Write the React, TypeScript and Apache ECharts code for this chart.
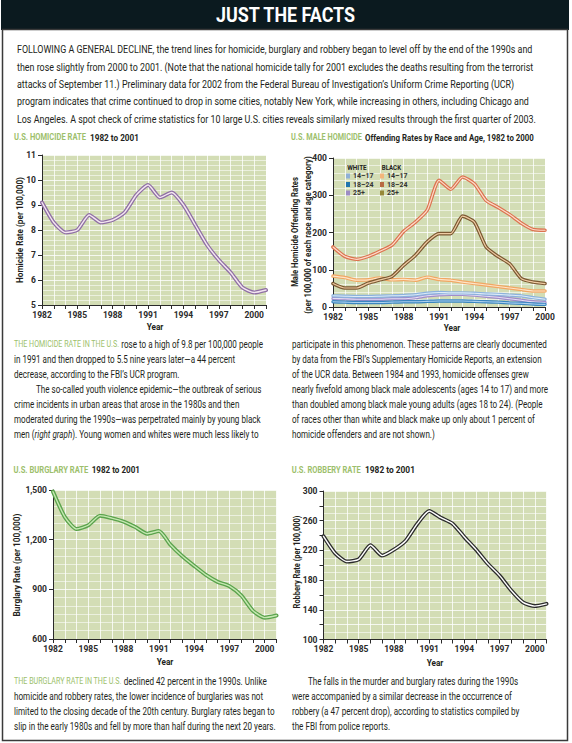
import React, { useEffect, useRef } from 'react';
import * as echarts from 'echarts';

// ---------------- data ----------------
const yearsTo2001 = [1982, 1983, 1984, 1985, 1986, 1987, 1988, 1989, 1990, 1991, 1992, 1993, 1994, 1995, 1996, 1997, 1998, 1999, 2000, 2001];
const yearsTo2000 = [1982, 1983, 1984, 1985, 1986, 1987, 1988, 1989, 1990, 1991, 1992, 1993, 1994, 1995, 1996, 1997, 1998, 1999, 2000];
const xLabelYears = [1982, 1985, 1988, 1991, 1994, 1997, 2000];

const homicideRate = [9.1, 8.3, 7.9, 8.0, 8.6, 8.3, 8.4, 8.7, 9.4, 9.8, 9.3, 9.5, 9.0, 8.2, 7.4, 6.8, 6.3, 5.7, 5.5, 5.6];
const burglaryRate = [1490, 1338, 1264, 1287, 1345, 1330, 1309, 1276, 1236, 1252, 1168, 1100, 1042, 987, 945, 919, 863, 770, 729, 742];
const robberyRate = [239, 216, 205, 208, 227, 213, 221, 233, 256, 273, 264, 256, 238, 221, 202, 186, 166, 150, 145, 148];

const black1824 = [161, 136, 128, 136, 150, 166, 203, 228, 260, 340, 316, 349, 331, 286, 268, 248, 225, 208, 206];
const black25plus = [63, 51, 51, 64, 73, 82, 112, 139, 175, 197, 197, 244, 228, 161, 136, 116, 76, 67, 63];
const black1417 = [83, 79, 72, 73, 78, 73, 74, 72, 80, 74, 72, 67, 63, 59, 55, 51, 47, 43, 43];
const white1417 = [30, 29, 28, 28, 29, 30, 31, 33, 37, 39, 38, 38, 37, 35, 34, 32, 30, 25, 21];
const white25plus = [23, 22, 21, 21, 21, 22, 22, 25, 30, 33, 34, 34, 32, 29, 26, 22, 18, 14, 12];
const white1824 = [14, 13, 12, 12, 12, 13, 14, 14, 15, 16, 16, 16, 15, 14, 13, 11, 10, 8, 7];

const homicideTicks = [5, 11, 1];
const maleTicks = [0, 400, 100];
const burglaryTicks = [600, 1500, 300];
const robberyTicks = [100, 300, 20];

const legendWhite = ['White 14–17', 'White 18–24', 'White 25+'];
const legendBlack = ['Black 14–17', 'Black 18–24', 'Black 25+'];

// ---------------- texts ----------------
const pageTitle = 'JUST THE FACTS';
const introLines = [
  'FOLLOWING A GENERAL DECLINE, the trend lines for homicide, burglary and robbery began to level off by the end of the 1990s and',
  'then rose slightly from 2000 to 2001. (Note that the national homicide tally for 2001 excludes the deaths resulting from the terrorist',
  'attacks of September 11.) Preliminary data for 2002 from the Federal Bureau of Investigation’s Uniform Crime Reporting (UCR)',
  'program indicates that crime continued to drop in some cities, notably New York, while increasing in others, including Chicago and',
  'Los Angeles. A spot check of crime statistics for 10 large U.S. cities reveals similarly mixed results through the first quarter of 2003.',
];
const midLeftLines = [
  '{g|THE HOMICIDE RATE IN THE U.S.} rose to a high of 9.8 per 100,000 people',
  'in 1991 and then dropped to 5.5 nine years later—a 44 percent',
  'decrease, according to the FBI’s UCR program.',
  'The so-called youth violence epidemic—the outbreak of serious',
  'crime incidents in urban areas that arose in the 1980s and then',
  'moderated during the 1990s—was perpetrated mainly by young black',
  'men ({i|right graph}). Young women and whites were much less likely to',
];
const midRightLines = [
  'participate in this phenomenon. These patterns are clearly documented',
  'by data from the FBI’s Supplementary Homicide Reports, an extension',
  'of the UCR data. Between 1984 and 1993, homicide offenses grew',
  'nearly fivefold among black male adolescents (ages 14 to 17) and more',
  'than doubled among black male young adults (ages 18 to 24). (People',
  'of races other than white and black make up only about 1 percent of',
  'homicide offenders and are not shown.)',
];
const bottomLeftLines = [
  '{g|THE BURGLARY RATE IN THE U.S.} declined 42 percent in the 1990s. Unlike',
  'homicide and robbery rates, the lower incidence of burglaries was not',
  'limited to the closing decade of the 20th century. Burglary rates began to',
  'slip in the early 1980s and fell by more than half during the next 20 years.',
];
const bottomRightLines = [
  'The falls in the murder and burglary rates during the 1990s',
  'were accompanied by a similar decrease in the occurrence of',
  'robbery (a 47 percent drop), according to statistics compiled by',
  'the FBI from police reports.',
];

// ---------------- style ----------------
const TEXT = '#231f20';
const GREEN = '#9dbf6c';
const AXIS = '#2a2a2a';
const PLOT_BG = '#d3ddb5';
const GRID_LINE = 'rgba(255,255,255,0.78)';
const GRID_MINOR = 'rgba(255,255,255,0.55)';
const BASE = 'Roboto';
const FONT = 'Roboto, "Noto Sans", sans-serif';

function makeMeasurer() {
  const ctx = document.createElement('canvas').getContext('2d') as CanvasRenderingContext2D;
  const width = (text: string, font: string) => {
    ctx.font = font;
    return ctx.measureText(text).width;
  };
  return { width };
}

function buildOption() {
  const m = makeMeasurer();
  const AXFONT = FONT;
  const axSize = 8.5;

  const fontStr = (size: number, weight: string) => `${weight} ${size}px ${BASE}`;
  const fitScale = (text: string, size: number, weight: string, target: number) => target / m.width(text, fontStr(size, weight));

  const txt = (text: string, x: number, y: number, size: number, o: any = {}) => {
    const weight = o.weight || 'normal';
    const sx = o.width ? fitScale(text, size, weight, o.width) : o.scale ?? 1;
    const align = o.align || 'left';
    return {
      type: 'text',
      x,
      y,
      rotation: o.rotation || 0,
      scaleX: sx,
      scaleY: 1,
      silent: true,
      z: 10,
      style: {
        text,
        fontSize: size,
        fontWeight: weight,
        fontFamily: FONT,
        fill: o.fill || TEXT,
        align,
        textAlign: align,
        verticalAlign: 'middle',
        textVerticalAlign: 'middle',
        rich: o.rich,
      },
    };
  };

  const graphics: any[] = [];
  // header + frame
  graphics.push({ type: 'rect', shape: { x: 1, y: 0, width: 568, height: 30 }, style: { fill: '#0b1a1f' }, silent: true });
  graphics.push({ type: 'rect', shape: { x: 2.5, y: 29.5, width: 565, height: 711 }, style: { fill: 'none', stroke: '#3a3a3a', lineWidth: 1.5 }, silent: true });
  graphics.push(txt(pageTitle, 285.5, 15.5, 21, { weight: 'bold', width: 140, align: 'center', fill: '#ffffff' }));

  // intro
  const introScale = fitScale(introLines[0], 11, 'normal', 516);
  introLines.forEach((l, i) => graphics.push(txt(l, 17, 49.5 + i * 17.3, 11, { scale: introScale })));

  // chart titles
  const titleParts = [
    ['U.S. HOMICIDE RATE', 14, 72, '1982 to 2001', 90, 49, 137.7],
    ['U.S. MALE HOMICIDE', 291, 71, 'Offending Rates by Race and Age, 1982 to 2000', 365, 169, 137.7],
    ['U.S. BURGLARY RATE', 13.5, 75, '1982 to 2001', 91.7, 48.3, 470],
    ['U.S. ROBBERY RATE', 291.7, 69.3, '1982 to 2001', 365, 50, 470],
  ] as any[];
  titleParts.forEach(([g, gx, gw, t, tx, tw, y]) => {
    graphics.push(txt(g, gx, y, 8.5, { weight: 'bold', width: gw, fill: GREEN }));
    graphics.push(txt(t, tx, y, 9.5, { weight: 'bold', width: tw }));
  });

  // axis names
  const yearName = [[155, 327], [452, 328], [165, 661.7], [435, 663.3]];
  yearName.forEach(([x, y]) => graphics.push(txt('Year', x, y, 9, { weight: 'bold', width: 16.7, align: 'center' })));
  const half = Math.PI / 2;
  graphics.push(txt('Homicide Rate (per 100,000)', 20, 230, 9, { weight: 'bold', width: 106, align: 'center', rotation: half }));
  graphics.push(txt('Male Homicide Offending Rates', 295, 232, 9, { weight: 'bold', width: 110, align: 'center', rotation: half }));
  graphics.push(txt('(per 100,000 of each race and age category)', 307.7, 235, 9, { weight: 'bold', width: 158, align: 'center', rotation: half }));
  graphics.push(txt('Burglary Rate (per 100,000)', 17.3, 565, 9, { weight: 'bold', width: 103, align: 'center', rotation: half }));
  graphics.push(txt('Robbery Rate (per 100,000)', 296.7, 562, 9, { weight: 'bold', width: 93, align: 'center', rotation: half }));

  // legend headers
  graphics.push(txt('WHITE', 347.3, 167.5, 7.5, { weight: 'bold', width: 19.4 }));
  graphics.push(txt('BLACK', 381.7, 167.5, 7.5, { weight: 'bold', width: 19.4 }));

  // paragraphs
  const paraScale = fitScale(midLeftLines[5], 10, 'normal', 247);
  const rich = {
    g: { fill: GREEN, fontSize: 8.8, fontFamily: FONT, fontWeight: 'normal' },
    i: { fill: TEXT, fontSize: 10, fontFamily: FONT, fontStyle: 'italic' },
  };
  midLeftLines.forEach((l, i) => graphics.push(txt(l, i === 3 ? 36 : 14, 344.7 + i * 15, 10, { scale: paraScale, rich })));
  midRightLines.forEach((l, i) => graphics.push(txt(l, 292, 344.7 + i * 15, 10, { scale: paraScale })));
  const bottomScale = fitScale(bottomLeftLines[3], 10, 'normal', 262);
  bottomLeftLines.forEach((l, i) => graphics.push(txt(l, 14, 681.5 + i * 15, 10, { scale: bottomScale, rich })));
  bottomRightLines.forEach((l, i) => graphics.push(txt(l, i === 0 ? 308 : 292, 681.5 + i * 15, 10, { scale: bottomScale })));

  // ---------- grids & axes ----------
  const grid = [
    { left: 42, top: 155, width: 224, height: 150 },
    { left: 333, top: 158, width: 212, height: 149 },
    { left: 53, top: 490, width: 223.5, height: 149 },
    { left: 323.5, top: 491, width: 223, height: 148.5 },
  ].map((g) => ({ ...g, show: true, backgroundColor: PLOT_BG, borderWidth: 0 }));

  const axisLabelStyle = { fontSize: axSize, fontWeight: 'bold', fontFamily: AXFONT, color: AXIS };

  const xAxisFor = (gridIndex: number, years: number[]) => ({
    type: 'value',
    gridIndex,
    min: years[0],
    max: years[years.length - 1],
    interval: 1,
    axisLine: { show: true, onZero: false, lineStyle: { color: AXIS, width: 1 } },
    axisTick: { show: true, length: 4, lineStyle: { color: AXIS, width: 1 } },
    axisLabel: {
      ...axisLabelStyle,
      margin: 5,
      showMinLabel: true,
      showMaxLabel: true,
      formatter: (v: number) => (xLabelYears.includes(v) ? String(v) : ''),
    },
    splitLine: { show: true, lineStyle: { color: GRID_LINE, width: 1 } },
  });

  const yAxisFor = (gridIndex: number, ticks: number[], labelStep: number, minor: number, fmt?: (v: number) => string) => ({
    type: 'value',
    gridIndex,
    min: ticks[0],
    max: ticks[1],
    interval: ticks[2],
    axisLine: { show: true, onZero: false, lineStyle: { color: AXIS, width: 1 } },
    axisTick: { show: true, length: 4, lineStyle: { color: AXIS, width: 1 } },
    axisLabel: {
      ...axisLabelStyle,
      margin: 6,
      showMinLabel: true,
      showMaxLabel: true,
      formatter: (v: number) => ((v - ticks[0]) % labelStep === 0 ? (fmt ? fmt(v) : String(v)) : ''),
    },
    splitLine: { show: true, lineStyle: { color: GRID_LINE, width: 1 } },
    minorTick: { show: false, splitNumber: minor },
    minorSplitLine: { show: true, lineStyle: { color: GRID_MINOR, width: 1 } },
  });

  const xAxis = [xAxisFor(0, yearsTo2001), xAxisFor(1, yearsTo2000), xAxisFor(2, yearsTo2001), xAxisFor(3, yearsTo2001)];
  const yAxis = [
    yAxisFor(0, homicideTicks, 1, 5),
    yAxisFor(1, maleTicks, 100, 5),
    yAxisFor(2, burglaryTicks, 300, 6, (v) => v.toLocaleString('en-US')),
    yAxisFor(3, robberyTicks, 40, 2),
  ];

  const doubleLine = (name: string, idx: number, years: number[], values: number[], outer: string, inner: string, wo: number, wi: number) => {
    const data = years.map((y, i) => [y, values[i]]);
    const common = {
      type: 'line',
      xAxisIndex: idx,
      yAxisIndex: idx,
      data,
      symbol: 'none',
      smooth: 0.2,
      silent: true,
      emphasis: { disabled: true },
      z: 3,
    };
    return [
      { ...common, name, color: outer, lineStyle: { color: outer, width: wo, cap: 'round', join: 'round' } },
      { ...common, name: name + ' core', color: inner, lineStyle: { color: inner, width: wi, cap: 'round', join: 'round' } },
    ];
  };

  const series = [
    ...doubleLine('Homicide rate', 0, yearsTo2001, homicideRate, '#8f6fa5', '#f4e6f1', 4, 1.4),
    ...doubleLine(legendWhite[2], 1, yearsTo2000, white25plus, '#a08ccb', '#e4def3', 3.4, 1.1),
    ...doubleLine(legendWhite[1], 1, yearsTo2000, white1824, '#3a86c0', '#acd0ee', 3.4, 1.1),
    ...doubleLine(legendWhite[0], 1, yearsTo2000, white1417, '#8cb2dd', '#deebf7', 3.4, 1.1),
    ...doubleLine(legendBlack[0], 1, yearsTo2000, black1417, '#f1a763', '#fde4c8', 3.6, 1.2),
    ...doubleLine(legendBlack[2], 1, yearsTo2000, black25plus, '#7b5832', '#efcba3', 3.6, 1.2),
    ...doubleLine(legendBlack[1], 1, yearsTo2000, black1824, '#dc7350', '#fddcc9', 3.6, 1.2),
    ...doubleLine('Burglary rate', 2, yearsTo2001, burglaryRate, '#5aa34c', '#c6e8b2', 4, 1.4),
    ...doubleLine('Robbery rate', 3, yearsTo2001, robberyRate, '#2c2c2c', '#ffffff', 4, 1.4),
  ];

  const legendColors: Record<string, string> = {
    'White 14–17': '#8fb0d6',
    'White 18–24': '#2176ae',
    'White 25+': '#9c8cc4',
    'Black 14–17': '#f3b57a',
    'Black 18–24': '#b86a42',
    'Black 25+': '#978838',
  };
  const legendFor = (names: string[], left: number) => ({
    left,
    top: 172,
    orient: 'vertical',
    padding: 0,
    icon: 'rect',
    itemWidth: 4,
    itemHeight: 5,
    itemGap: 0.5,
    selectedMode: false,
    data: names.map((n) => ({ name: n, itemStyle: { color: legendColors[n] } })),
    formatter: (n: string) => n.replace(/^(White|Black) /, ''),
    textStyle: { fontSize: 7, fontWeight: 'bold', fontFamily: FONT, color: '#333', lineHeight: 8, padding: [0, 0, 0, -2] },
  });

  return {
    animation: false,
    backgroundColor: '#ffffff',
    grid,
    xAxis,
    yAxis,
    legend: [legendFor(legendWhite, 346), legendFor(legendBlack, 380)],
    series,
    graphic: { elements: graphics },
  };
}

export default function App() {
  const ref = useRef<HTMLDivElement>(null);
  useEffect(() => {
    const el = ref.current;
    if (!el) return;
    const chart = echarts.init(el, undefined, { renderer: 'svg' });
    chart.setOption(buildOption() as any);
    return () => chart.dispose();
  }, []);
  return <div ref={ref} style={{ position: 'absolute', left: 0, top: 0, width: 572, height: 743, background: '#fff' }} />;
}
